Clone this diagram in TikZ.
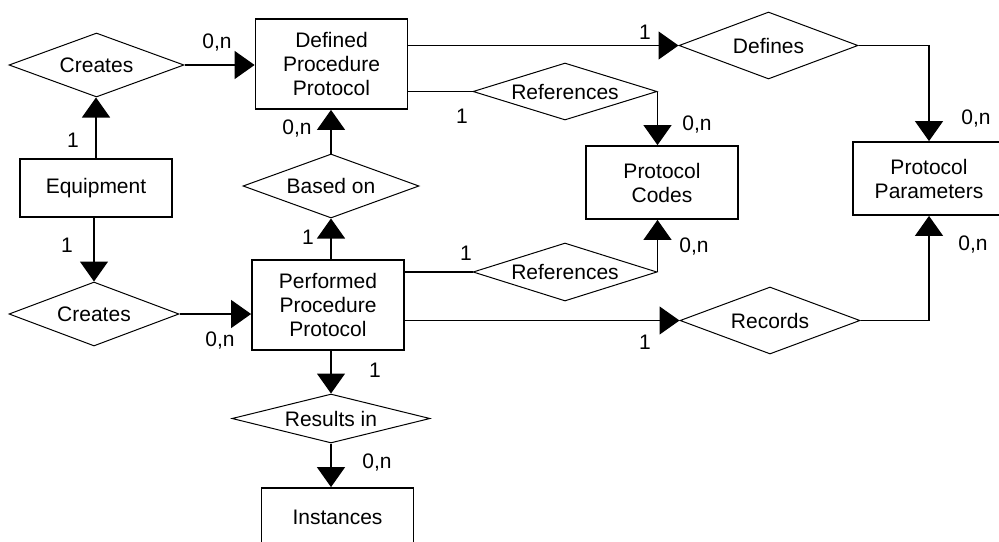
\documentclass[tikz,border=0pt]{standalone}
\usepackage{fontspec}
\setmainfont{Liberation Sans}
\usetikzlibrary{arrows.meta,shapes.geometric,positioning}

\begin{document}
\begin{tikzpicture}[x=0.5pt,y=-0.5pt,
	every node/.style={font=\fontsize{10.5}{12}\selectfont}]
\tikzstyle{entity} = [
	shape=rectangle,
	draw=black, %box border
	line width=0.9pt,
	align=center,
	inner sep=0pt,
	minimum width=76pt
];
\tikzstyle{relation} = [
	shape=diamond,
	draw=black,
	line width=0.5pt,
	aspect=3.5, %flat diamonds
	inner sep=0pt,
	align=center
];
\tikzstyle{card} = [inner sep=0pt];

\useasboundingbox (0,0) rectangle (999,541);

%entities
\node[entity, minimum height=45pt](DPP) at (331.5,64) {Defined\\Procedure\\Protocol};
\node[entity, minimum height=29pt](Equip) at (96,188) {Equipment};
\node[entity, minimum height=45pt](PPP) at (328,305) {Performed\\Procedure\\Protocol};
\node[entity, minimum height=36.5pt](Codes) at (662,182.5) {Protocol\\Codes};
\node[entity, minimum height=36.5pt](Params) at (929,178.5) {Protocol\\Parameters};
\node[entity, minimum height=29pt](Inst) at (337.5,517) {Instances};

%relationships
\node[relation, minimum width=87.5pt, minimum height=32pt](CreatesA) at (96.5,65) {Creates};
\node[relation, minimum width=85pt, minimum height=32pt](CreatesB) at (94,314) {Creates};
\node[relation, minimum width=88pt, minimum height=32pt](Based) at (331,186) {Based on};
\node[relation, minimum width=92pt, minimum height=28.5pt](RefA) at (565,91.5) {References};
\node[relation, minimum width=92pt, minimum height=29pt](RefB) at (565,272) {References};
\node[relation, minimum width=89.5pt, minimum height=33.5pt](Defines) at (768.5,45.5) {Defines};
\node[relation, minimum width=90pt, minimum height=33.5pt](Records) at (770,320.5) {Records};
\node[relation, minimum width=99pt, minimum height=24.5pt](Results) at (331,418.5) {Results in};

%plain links
\draw[line width=0.6pt]
	(RefA.west -| DPP.east) -- (RefA.west)
	(RefB.west -| PPP.east) -- (RefB.west)
;

%directed links
\path[-{Triangle[length=10pt,width=14pt]}, line width=0.6pt]
	(CreatesA.east) edge[] (CreatesA.east -| DPP.west)
	(Equip.north) edge[] (Equip.north |- CreatesA.south)
	(CreatesB.north |- Equip.south) edge[] (CreatesB.north)
	(CreatesB.east) edge[] (CreatesB.east -| PPP.west)
	(Based.south |- PPP.north) edge[] (Based.south)
	(Based.north) edge[] (Based.north |- DPP.south)
	(Defines.west -| DPP.east) edge[] (Defines.west)
	(RefA.east) edge[] (RefA.east |- Codes.north)
	(RefB.east) edge[] (RefB.east |- Codes.south)
	(Records.west -| PPP.east) edge[] (Records.west)
	(Results.north |- PPP.south) edge[] (Results.north)
	(Results.south) edge[] (Results.south |- Inst.north)
;
\draw[-{Triangle[length=10pt,width=14pt]}, line width=0.6pt]
	(Defines.east) -| (Params.north);
\draw[-{Triangle[length=10pt,width=14pt]}, line width=0.6pt]
	(Records.east) -| (Params.south);

%cardinalities
\node[card](c1) at (217,43) {0,n};
\node[card](c2) at (73,140) {1};
\node[card](c3) at (67,245) {1};
\node[card](c4) at (220,341) {0,n};
\node[card](c5) at (297,129) {0,n};
\node[card](c6) at (308,237) {1};
\node[card](c7) at (375,370) {1};
\node[card](c8) at (377,463) {0,n};
\node[card](c9) at (645,32) {1};
\node[card](c10) at (976,119) {0,n};
\node[card](c11) at (462,116) {1};
\node[card](c12) at (697,125) {0,n};
\node[card](c13) at (466,253) {1};
\node[card](c14) at (694,247) {0,n};
\node[card](c15) at (645,342) {1};
\node[card](c16) at (973,245) {0,n};

\end{tikzpicture}
\end{document}
